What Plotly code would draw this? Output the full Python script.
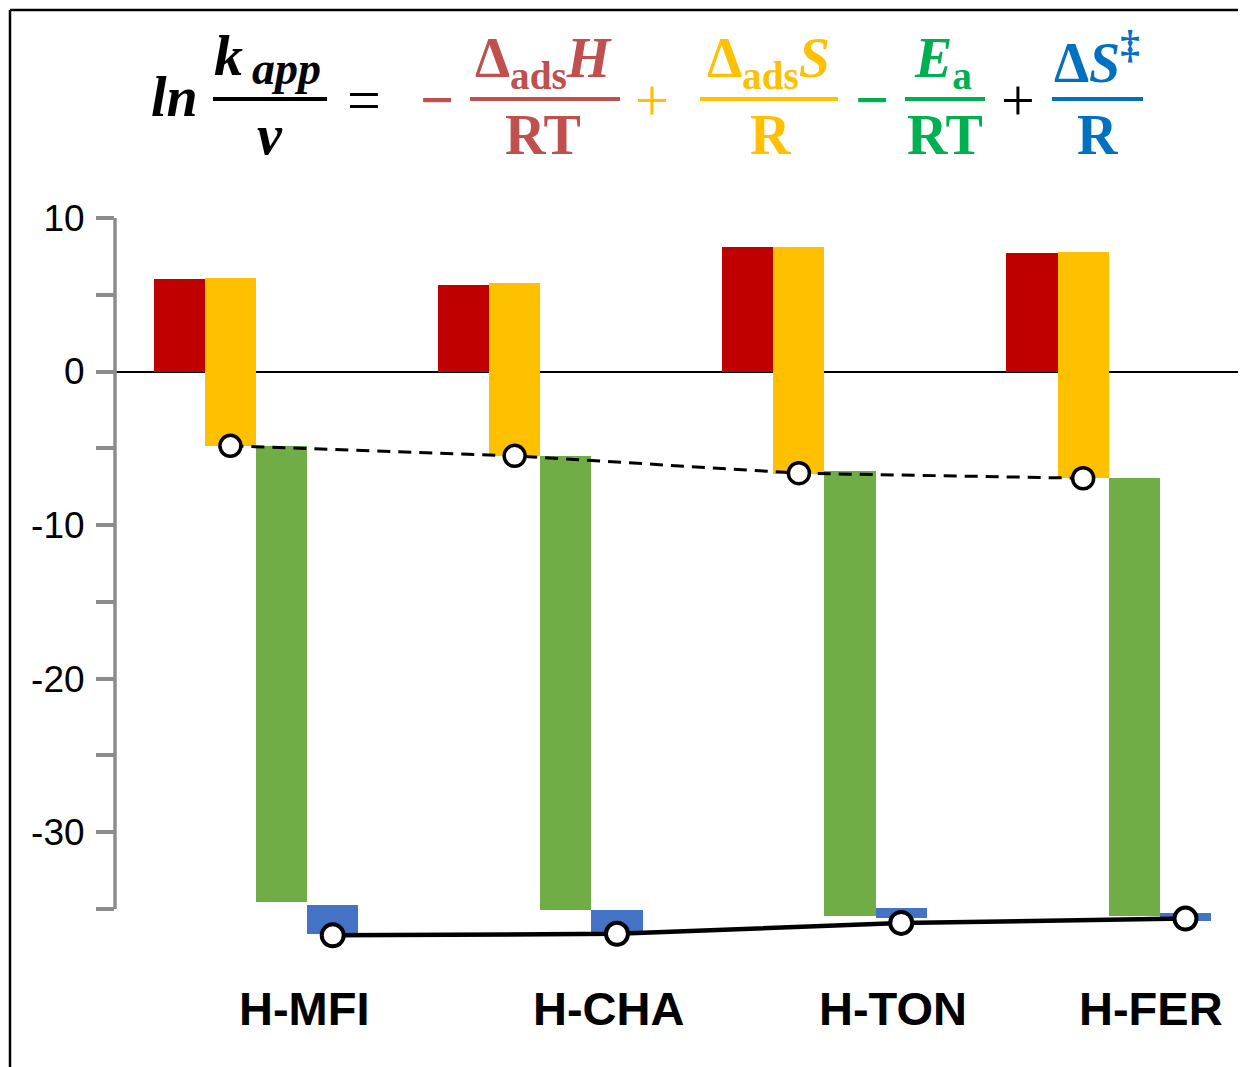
import numpy as np
import plotly.graph_objects as go

# ---------------- data ----------------
categories = ["H-MFI", "H-CHA", "H-TON", "H-FER"]
adsH_top = [6.02, 5.65, 8.08, 7.72]          # -ΔadsH/RT (from 0)
adsS_top = [6.09, 5.76, 8.08, 7.78]          # ΔadsS/R bar start
adsS_bottom = [-4.84, -5.49, -6.67, -6.95]   # ΔadsS/R bar end
Ea_top = [-4.84, -5.49, -6.47, -6.95]        # -Ea/RT bar start
Ea_bottom = [-34.57, -35.04, -35.48, -35.48] # -Ea/RT bar end
dS_top = [-34.75, -35.06, -34.93, -35.27]    # ΔS‡/R bar start
dS_bottom = [-36.64, -36.50, -35.60, -35.79] # ΔS‡/R bar end
ln_after_ads = [-4.84, -5.49, -6.62, -6.95]
ln_kapp = [-36.72, -36.62, -35.91, -35.63]
y_tickvals = [10, 5, 0, -5, -10, -15, -20, -25, -30, -35]
y_ticktext = ["10", "", "0", "", "-10", "", "-20", "", "-30", ""]

# ---------------- layout helpers ----------------
# page body adds 8px margin; figure coords = reference coords - 8
OFF = 8
W, H = 1246 - OFF, 1067 - OFF
ML, MR, MT = 115 - OFF, 0, 218 - OFF
YMIN, YMAX = -38, 10
PXU = 691 / 45.0                     # pixels per y unit
PH = int(round(PXU * (YMAX - YMIN)))
MB = H - MT - PH
PW = W - ML - MR


def X(px):
    return (px - OFF - ML) / PW


def Y(py):
    return (MT + PH - (py - OFF)) / PH


idx = np.arange(len(categories))
bw = 0.18
offs = [-0.27, -0.09, 0.09, 0.27]

fig = go.Figure()

series = [
    (np.zeros(4), np.array(adsH_top), "#C00000"),
    (np.array(adsS_bottom), np.array(adsS_top), "#FFC000"),
    (np.array(Ea_bottom), np.array(Ea_top), "#70AD47"),
    (np.array(dS_bottom), np.array(dS_top), "#4472C4"),
]
for (bot, top, col), off in zip(series, offs):
    fig.add_trace(go.Bar(x=idx + off, y=top - bot, base=bot, width=bw,
                         marker=dict(color=col, line=dict(width=0)),
                         showlegend=False))

fig.add_trace(go.Scatter(x=idx - 0.09, y=ln_after_ads, mode="lines+markers",
                         line=dict(color="black", width=3, dash="13px,8px"),
                         marker=dict(size=21, color="white",
                                     line=dict(color="black", width=3.5)),
                         showlegend=False, cliponaxis=False))
fig.add_trace(go.Scatter(x=idx + 0.27, y=ln_kapp, mode="lines+markers",
                         line=dict(color="black", width=4.5),
                         marker=dict(size=22, color="white",
                                     line=dict(color="black", width=4)),
                         showlegend=False, cliponaxis=False))

annotations = []
label_shift = [0.17, 0.24, 0.24, 0.15]
for i, c in enumerate(categories):
    annotations.append(dict(x=i + label_shift[i], y=Y(1008), xref="x", yref="paper",
                            text="<b>%s</b>" % c, showarrow=False,
                            font=dict(family="Liberation Sans, Arial", size=47, color="black"),
                            xanchor="center", yanchor="middle"))

SERIF = "Liberation Serif, Times New Roman, serif"
RED, YEL, GRN, BLU = "#C0504D", "#FFC000", "#00B050", "#0070C0"
eq = [
    ("<b><i>ln</i></b>", 174, 97, "black", 56),
    ("<b><i>k</i></b>", 228, 56, "black", 58),
    ("<b><i>app</i></b>", 286, 69, "black", 46),
    ("<b><i>ν</i></b>", 270, 135, "black", 56),
    ("=", 364, 100, "black", 60),
    ("<b>−</b>", 437, 100, RED, 60),
    ("<b>Δ<sub>ads</sub><i>H</i></b>", 543, 62, RED, 56),
    ("<b>RT</b>", 543, 135, RED, 56),
    ("+", 652, 100, YEL, 60),
    ("<b>Δ<sub>ads</sub><i>S</i></b>", 768, 62, YEL, 56),
    ("<b>R</b>", 770, 135, YEL, 56),
    ("<b>−</b>", 872, 100, GRN, 60),
    ("<b><i>E</i><sub>a</sub></b>", 943, 62, GRN, 56),
    ("<b>RT</b>", 945, 135, GRN, 56),
    ("+", 1018, 100, "black", 60),
    ("<b>Δ<i>S</i><sup>‡</sup></b>", 1097, 58, BLU, 56),
    ("<b>R</b>", 1097, 135, BLU, 56),
]
for t, px, py, col, sz in eq:
    annotations.append(dict(x=X(px), y=Y(py), xref="paper", yref="paper", text=t,
                            showarrow=False, font=dict(family=SERIF, size=sz, color=col),
                            xanchor="center", yanchor="middle"))

shapes = []
for x0, x1, col in [(213, 327, "black"), (470, 620, RED), (700, 838, YEL),
                    (905, 985, GRN), (1052, 1143, BLU)]:
    shapes.append(dict(type="line", xref="paper", yref="paper", x0=X(x0), x1=X(x1),
                       y0=Y(99), y1=Y(99), line=dict(color=col, width=4)))
# y axis line from 10 to -35
shapes.append(dict(type="line", xref="paper", yref="y", x0=0, x1=0,
                   y0=y_tickvals[0], y1=y_tickvals[-1],
                   line=dict(color="#8C8C8C", width=3.5)))
# outer frame (top and left edges)
shapes.append(dict(type="line", xref="paper", yref="paper", x0=X(10), x1=X(1260),
                   y0=Y(10), y1=Y(10), line=dict(color="black", width=2.5)))
shapes.append(dict(type="line", xref="paper", yref="paper", x0=X(10), x1=X(10),
                   y0=Y(10), y1=Y(1080), line=dict(color="black", width=2.5)))

fig.update_layout(
    width=W, height=H, margin=dict(l=ML, r=MR, t=MT, b=MB, pad=0),
    paper_bgcolor="white", plot_bgcolor="white",
    barmode="overlay", bargap=0,
    annotations=annotations, shapes=shapes,
    xaxis=dict(range=[-0.496, 3.483], visible=True, showticklabels=False,
               showline=False, showgrid=False, zeroline=False, ticks=""),
    yaxis=dict(range=[YMIN, YMAX], tickvals=y_tickvals, ticktext=y_ticktext,
               showline=False,
               ticks="outside", ticklen=18, tickwidth=3.5, tickcolor="#8C8C8C",
               ticklabelstandoff=4,
               showgrid=False, zeroline=True, zerolinecolor="black", zerolinewidth=1.5,
               tickfont=dict(family="Liberation Sans, Arial", size=37, color="black")),
)

fig.write_html("out.html")
